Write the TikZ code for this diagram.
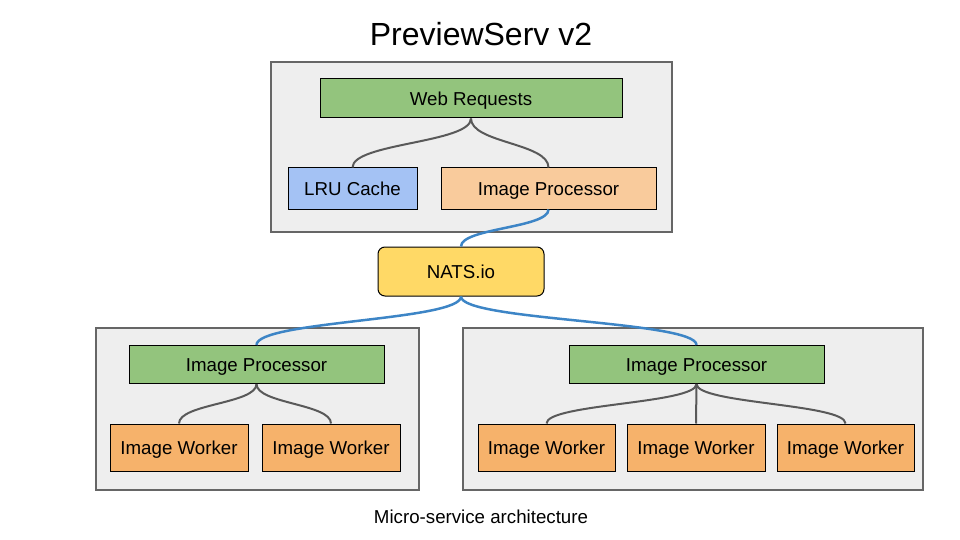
\documentclass[tikz,border=0pt]{standalone}
\usepackage{fontspec}
\setmainfont{Liberation Sans}
\usetikzlibrary{positioning, calc}
\definecolor{boxgray}{HTML}{EEEEEE}
\definecolor{framegray}{HTML}{666666}
\definecolor{linkgray}{HTML}{595959}
\definecolor{natsblue}{HTML}{3D85C6}
\definecolor{procgreen}{HTML}{93C47D}
\definecolor{cacheblue}{HTML}{A4C2F4}
\definecolor{peach}{HTML}{F9CB9C}
\definecolor{workorange}{HTML}{F6B26B}
\definecolor{natsyellow}{HTML}{FFD966}
\tikzstyle{group} = [rectangle, draw=framegray, fill=boxgray, line width=1.3pt, inner sep=0pt]
\tikzstyle{label} = [inner sep=0pt, text height=13.4pt, text depth=0pt, font=\fontsize{18.7}{22}\selectfont]
\tikzstyle{myBox} = [label, rectangle, draw=black, line width=1pt, text centered]
\tikzstyle{sbend} = [to path={.. controls ($(\tikztostart)!0.5!(\tikztostart|-\tikztotarget)$) and ($(\tikztotarget)!0.5!(\tikztotarget|-\tikztostart)$) .. (\tikztotarget)}]
\tikzstyle{link} = [sbend, draw=linkgray, line width=2pt]
\tikzstyle{bus} = [sbend, draw=natsblue, line width=2.5pt]

\begin{document}
\begin{tikzpicture}[x=1pt,y=-1pt]
		\useasboundingbox (0,0) rectangle (960,540);
		\node [inner sep=0pt,text height=22.9pt,text depth=0pt,font=\fontsize{32}{38}\selectfont](title) at (481,34.4){PreviewServ v2};
		% groups
		\node [group,minimum width=401pt,minimum height=170pt](gtop) at (471.5,147){};
		\node [group,minimum width=323pt,minimum height=162pt](gleft) at (257.5,409){};
		\node [group,minimum width=460pt,minimum height=162pt](gright) at (693,409){};
		% web tier
		\node [myBox,fill=procgreen,minimum width=302pt,minimum height=39pt](web) at (471,98.5){Web Requests};
		\node [myBox,fill=cacheblue,minimum width=129pt,minimum height=41pt](lru) at (352.5,188.5){LRU Cache};
		\node [myBox,fill=peach,minimum width=215pt,minimum height=41pt](proc) at (548.5,188.5){Image Processor};
		\node [myBox,fill=natsyellow,rounded corners=7pt,minimum width=166pt,minimum height=49pt](nats) at (461,271.5){NATS.io};
		% left worker group
		\node [myBox,fill=procgreen,minimum width=255pt,minimum height=38pt](lproc) at (256.5,364.5){Image Processor};
		\node [myBox,fill=workorange,minimum width=138pt,minimum height=47pt](lw1) at (179,447.5){Image Worker};
		\node [myBox,fill=workorange,minimum width=138pt,minimum height=47pt](lw2) at (331,447.5){Image Worker};
		% right worker group
		\node [myBox,fill=procgreen,minimum width=255pt,minimum height=38pt](rproc) at (696.5,364.5){Image Processor};
		\node [myBox,fill=workorange,minimum width=137pt,minimum height=47pt](rw1) at (546.5,447.5){Image Worker};
		\node [myBox,fill=workorange,minimum width=138pt,minimum height=47pt](rw2) at (696,447.5){Image Worker};
		\node [myBox,fill=workorange,minimum width=137pt,minimum height=47pt](rw3) at (845.5,447.5){Image Worker};
		\node [label](caption) at (481,516.7){Micro-service architecture};

		\draw [link] (web.south) to (lru.north);
		\draw [link] (web.south) to (proc.north);
		\draw [bus] (proc.south) to (nats.north);
		\draw [bus] (nats.south) to (lproc.north);
		\draw [bus] (nats.south) to (rproc.north);
		\draw [link] (lproc.south) to (lw1.north);
		\draw [link] (lproc.south) to (lw2.north);
		\draw [link] (rproc.south) to (rw1.north);
		\draw [link] (rproc.south) to (rw2.north);
		\draw [link] (rproc.south) to (rw3.north);
		\end{tikzpicture}
\end{document}
